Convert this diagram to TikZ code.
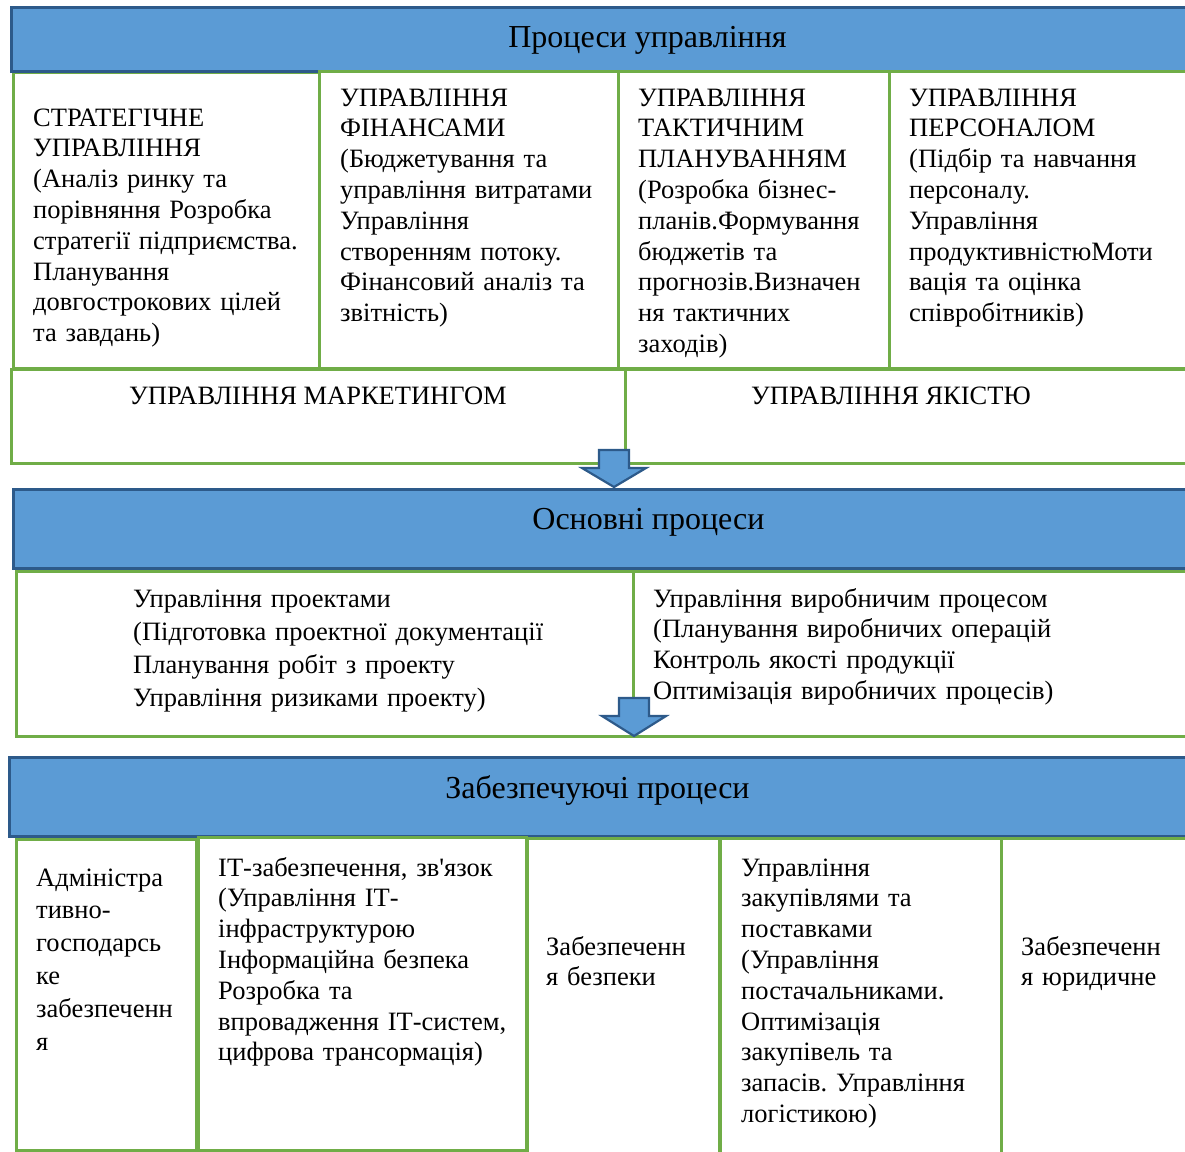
\documentclass[tikz,border=0pt]{standalone}
\usepackage{fontspec}
\setmainfont{Liberation Serif}[Ligatures=TeXOff]
\frenchspacing
\definecolor{bandblue}{HTML}{5B9BD5}
\definecolor{banddark}{HTML}{2D5A8A}
\definecolor{boxgreen}{HTML}{70AD47}

% box node: style, name, left, top, right, bottom
\newcommand\pbox[6]{\node[#1, minimum width={#5-#3}, minimum height={#6-#4}] (#2) at (#3,#4) {};}

\begin{document}
\begin{tikzpicture}[x=1pt,y=-1pt,
  band/.style={draw=banddark, fill=bandblue, line width=2.6pt, inner sep=0pt, anchor=north west},
  gbox/.style={draw=boxgreen, fill=white, line width=2.6pt, inner sep=0pt, anchor=north west},
  head/.style={anchor=base, inner sep=0pt, font=\fontsize{32}{36}\selectfont},
  txt/.style={anchor=base west, inner sep=0pt, align=left, text width=#1,
              font=\fontsize{26.5}{30.8}\selectfont},
  txt/.default=500pt,
  ctxt/.style={anchor=base, inner sep=0pt, font=\fontsize{26.5}{30.8}\selectfont},
  blockarrow/.style={draw=banddark, fill=bandblue, line width=2.2pt, line join=miter}]
\useasboundingbox (0,0) rectangle (1185,1151);
\clip (0,0) rectangle (1185,1151);

% ---- management processes ----
\pbox{gbox}{m1}{12}{71}{318}{367}
\pbox{band}{bandM}{10}{6}{1200}{70}
\pbox{gbox}{m2}{318}{70}{617}{367}
\pbox{gbox}{m3}{617}{70}{888}{367}
\pbox{gbox}{m4}{888}{70}{1200}{367}
\pbox{gbox}{mk}{10}{368}{624}{462}
\pbox{gbox}{qa}{624}{368}{1200}{462}

\node[head] (tM) at (647.5,47) {Процеси управління};

\node[txt] (t1) at (33,126) {СТРАТЕГІЧНЕ\\УПРАВЛІННЯ\\(Аналіз ринку та\\порівняння Розробка\\стратегії підприємства.\\Планування\\довгострокових цілей\\та завдань)};
\node[txt] (t2) at (340,106) {УПРАВЛІННЯ\\ФІНАНСАМИ\\(Бюджетування та\\управління витратами\\Управління\\створенням потоку.\\Фінансовий аналіз та\\звітність)};
\node[txt] (t3) at (638,106) {УПРАВЛІННЯ\\ТАКТИЧНИМ\\ПЛАНУВАННЯМ\\(Розробка бізнес-\\планів.Формування\\бюджетів та\\прогнозів.Визначен\\ня тактичних\\заходів)};
\node[txt] (t4) at (909,106) {УПРАВЛІННЯ\\ПЕРСОНАЛОМ\\(Підбір та навчання\\персоналу.\\Управління\\продуктивністюМоти\\вація та оцінка\\співробітників)};
\node[ctxt] (tmk) at (318,404) {УПРАВЛІННЯ МАРКЕТИНГОМ};
\node[ctxt] (tqa) at (891,404) {УПРАВЛІННЯ ЯКІСТЮ};

% ---- core processes ----
\pbox{band}{bandC}{12}{488}{1200}{567}
\pbox{gbox}{c1}{15}{570}{632}{735}
\pbox{gbox}{c2}{632}{570}{1200}{735}

\node[head] (tC) at (648.5,529) {Основні процеси};
\node[txt, font=\fontsize{26.5}{33}\selectfont] (tc1) at (133,607) {Управління проектами\\(Підготовка проектної документації\\Планування робіт з проекту\\Управління ризиками проекту)};
\node[txt] (tc2) at (653,607) {Управління виробничим процесом\\(Планування виробничих операцій\\Контроль якості продукції\\Оптимізація виробничих процесів)};

% ---- supporting processes ----
\pbox{band}{bandS}{8}{756}{1200}{835}
\pbox{gbox}{s1}{15}{838}{195}{1149}
\pbox{gbox}{s2}{197}{836}{525}{1149}
\pbox{gbox}{s3}{526}{837}{718}{1160}
\pbox{gbox}{s4}{719}{837}{1000}{1160}
\pbox{gbox}{s5}{1000}{837}{1200}{1160}

\node[head] (tS) at (597.5,798) {Забезпечуючі процеси};
\node[txt, font=\fontsize{26.5}{32.8}\selectfont] (ts1) at (36,886) {Адміністра\\тивно-\\господарсь\\ке\\забезпеченн\\я};
\node[txt] (ts2) at (218,876) {ІТ-забезпечення, зв'язок\\(Управління ІТ-\\інфраструктурою\\Інформаційна безпека\\Розробка та\\впровадження ІТ-систем,\\цифрова трансормація)};
\node[txt] (ts3) at (546,955) {Забезпеченн\\я безпеки};
\node[txt] (ts4) at (741,876) {Управління\\закупівлями та\\поставками\\(Управління\\постачальниками.\\Оптимізація\\закупівель та\\запасів. Управління\\логістикою)};
\node[txt] (ts5) at (1021,955) {Забезпеченн\\я юридичне};

% ---- block arrows between the levels ----
\draw[blockarrow] (599,450) -- (629,450) -- (629,468) -- (646,468) -- (614,487)
  -- (582,468) -- (599,468) -- cycle;
\draw[blockarrow] (619,698) -- (649,698) -- (649,716) -- (666,716) -- (634,736)
  -- (602,716) -- (619,716) -- cycle;
\end{tikzpicture}
\end{document}
